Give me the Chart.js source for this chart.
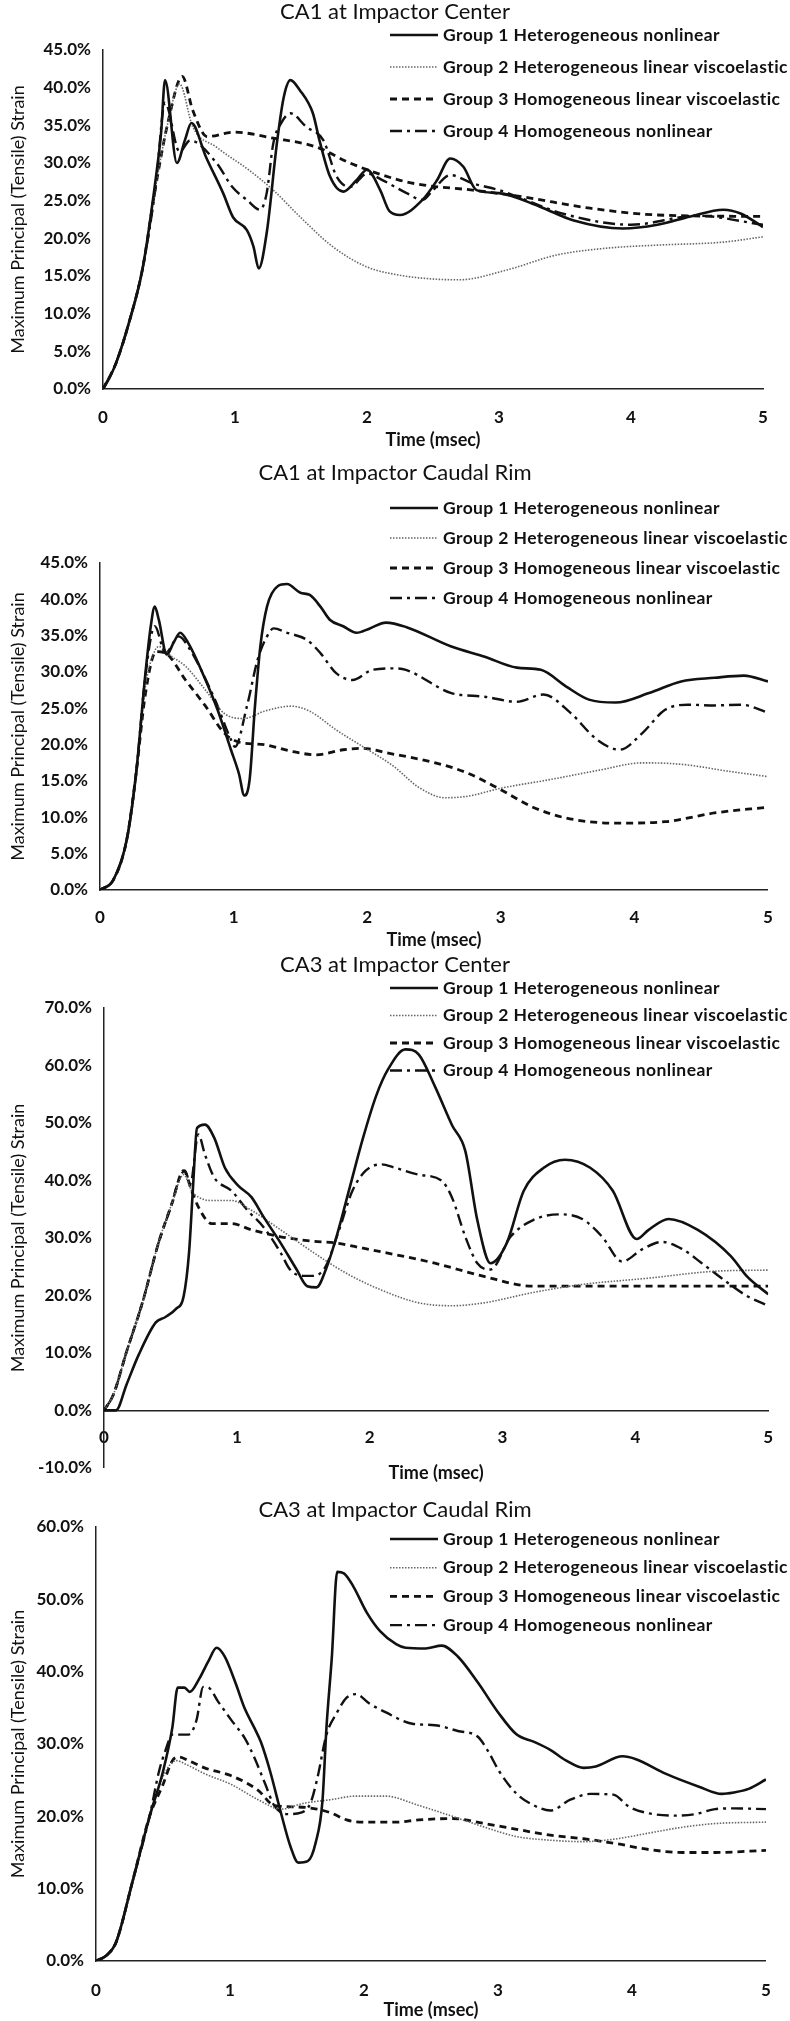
<!DOCTYPE html>
<html>
<head>
<meta charset="utf-8">
<script src="https://cdn.jsdelivr.net/npm/chart.js@4.4.1/dist/chart.umd.min.js"></script>
<style>
  html, body { margin: 0; padding: 0; background: #fff; }
  body { width: 790px; height: 2021px; position: relative; overflow: hidden; }
  .panel { position: absolute; left: 0; width: 790px; }
</style>
</head>
<body>
<div class="panel" id="p0"><canvas id="c0"></canvas></div>
<div class="panel" id="p1"><canvas id="c1"></canvas></div>
<div class="panel" id="p2"><canvas id="c2"></canvas></div>
<div class="panel" id="p3"><canvas id="c3"></canvas></div>
<script>
// ---- data (time in msec, strain in %) ----
const groupNames = [
  'Group 1 Heterogeneous nonlinear',
  'Group 2 Heterogeneous linear viscoelastic',
  'Group 3 Homogeneous linear viscoelastic',
  'Group 4 Homogeneous nonlinear'
];
const panelTitles = ['CA1 at Impactor Center', 'CA1 at Impactor Caudal Rim', 'CA3 at Impactor Center', 'CA3 at Impactor Caudal Rim'];
const xTitle = 'Time (msec)';
const yTitle = 'Maximum Principal (Tensile) Strain';
const xRange = [0, 5, 1];
const yRanges = [[0, 45, 5], [0, 45, 5], [-10, 70, 10], [0, 60, 10]];

// CA1 at Impactor Center
const ca1CenterG1 = [[0,0],[0.05,1.5],[0.1,3.5],[0.2,9],[0.3,16],[0.4,28],[0.44,34],[0.47,41],[0.56,30],[0.62,33],[0.67,35.3],[0.78,30.8],[0.91,26],[0.985,22.8],[1.09,21.1],[1.14,18.9],[1.18,16],[1.24,20.7],[1.32,33],[1.37,38.8],[1.42,41],[1.49,39.7],[1.59,36.6],[1.64,33],[1.72,28.2],[1.82,26.2],[1.92,27.7],[2.0,29.1],[2.1,26.4],[2.17,23.6],[2.25,23.1],[2.42,25.1],[2.53,27.7],[2.63,30.6],[2.73,29.5],[2.83,26.4],[3.0,26],[3.31,24.2],[3.56,22.4],[3.94,21.3],[4.2,21.8],[4.45,22.9],[4.7,23.8],[4.83,23.3],[5.0,21.5]];
const ca1CenterG2 = [[0,0],[0.1,3.5],[0.2,9],[0.3,16],[0.4,27],[0.5,36],[0.58,40.5],[0.68,34.8],[0.86,32.1],[1.11,29],[1.29,26.4],[1.49,22.9],[1.74,18.9],[2.0,16.2],[2.25,15.1],[2.5,14.6],[2.7,14.5],[3.06,15.8],[3.44,17.8],[3.82,18.7],[4.2,19.1],[4.7,19.5],[5,20.2]];
const ca1CenterG3 = [[0,0],[0.1,3.5],[0.2,9],[0.3,16],[0.4,27],[0.5,36],[0.6,41.5],[0.68,37],[0.79,33.5],[0.99,34.1],[1.29,33.3],[1.62,32.1],[1.87,30],[2.25,27.7],[2.42,27.1],[2.8,26.4],[3.18,25.5],[3.69,24],[4.2,23.1],[5,22.9]];
const ca1CenterG4 = [[0,0],[0.1,3.5],[0.2,9],[0.3,16],[0.4,27],[0.47,38],[0.58,31.5],[0.66,33],[0.86,30],[0.98,26.8],[1.09,25.1],[1.19,23.8],[1.24,26],[1.29,32.6],[1.35,35.3],[1.42,36.6],[1.54,34.8],[1.67,33],[1.77,28.2],[1.87,26.8],[2.0,28.6],[2.12,27.7],[2.3,26],[2.42,25.1],[2.5,26.4],[2.63,28.4],[2.8,27.3],[3.0,26.4],[3.5,23.2],[4.0,21.8],[4.5,23],[5,21.8]];

// CA1 at Impactor Caudal Rim
const ca1RimG1 = [[0,0],[0.1,1.4],[0.2,6.9],[0.27,16],[0.34,29.8],[0.38,36.3],[0.41,39],[0.44,37.2],[0.5,32.4],[0.55,34],[0.6,35.4],[0.66,34],[0.79,28.9],[0.88,24.8],[0.98,19.3],[1.04,16],[1.08,13],[1.12,15.2],[1.16,25.3],[1.2,33.5],[1.25,39],[1.33,41.8],[1.4,42.1],[1.5,40.9],[1.57,40.6],[1.65,39],[1.72,37.2],[1.82,36.3],[1.92,35.4],[2.02,36],[2.14,36.8],[2.29,36.2],[2.63,33.5],[2.88,32.1],[3.12,30.6],[3.3,30.3],[3.49,28],[3.66,26.2],[3.86,25.8],[4.11,27.1],[4.35,28.7],[4.6,29.2],[4.82,29.5],[5,28.7]];
const ca1RimG2 = [[0,0],[0.1,1.4],[0.2,6.9],[0.27,16],[0.34,28],[0.4,32.5],[0.44,33.5],[0.54,32.1],[0.64,30.8],[0.79,27.5],[0.93,24.3],[1.08,23.6],[1.23,24.6],[1.43,25.3],[1.57,24.6],[1.77,22],[1.97,19.7],[2.2,17],[2.38,14.2],[2.58,12.7],[2.75,12.9],[3.0,14],[3.37,15.2],[3.74,16.5],[4.06,17.5],[4.35,17.3],[4.72,16.3],[5,15.6]];
const ca1RimG3 = [[0,0],[0.1,1.4],[0.2,6.9],[0.27,16],[0.34,27],[0.42,32.8],[0.49,32.6],[0.64,28.9],[0.79,25.3],[0.93,21.6],[1.03,20.4],[1.23,20],[1.43,19.1],[1.62,18.6],[1.82,19.3],[1.97,19.5],[2.14,18.9],[2.51,17.5],[2.75,16.1],[3.0,13.8],[3.24,11.4],[3.49,9.9],[3.86,9.2],[4.23,9.4],[4.6,10.6],[5,11.4]];
const ca1RimG4 = [[0,0],[0.1,1.4],[0.2,6.9],[0.27,16],[0.34,29.5],[0.41,36.3],[0.49,32.6],[0.59,34.9],[0.66,33.5],[0.86,26.2],[0.98,20.7],[1.01,19.7],[1.1,25.3],[1.18,31.7],[1.25,34.9],[1.3,36],[1.4,35.4],[1.55,34.4],[1.65,32.6],[1.77,29.8],[1.89,28.9],[2.04,30.3],[2.21,30.5],[2.29,30.3],[2.63,27.1],[2.88,26.6],[3.12,25.9],[3.32,26.9],[3.52,24.4],[3.72,20.7],[3.89,19.3],[4.06,21.6],[4.23,24.8],[4.4,25.5],[4.6,25.4],[4.8,25.5],[5,24.4]];

// CA3 at Impactor Center
const ca3CenterG1 = [[0,0],[0.09,0],[0.17,4.5],[0.26,9.6],[0.39,15.3],[0.46,16.2],[0.54,17.6],[0.6,19.9],[0.64,27.4],[0.67,38.8],[0.7,49.1],[0.76,49.7],[0.83,47.4],[0.91,42.2],[1.01,39.1],[1.11,37.1],[1.2,33.7],[1.33,29.1],[1.45,24.5],[1.53,21.6],[1.6,21.4],[1.67,24.5],[1.75,30.2],[1.85,38.8],[1.95,47.4],[2.05,54.8],[2.14,59.4],[2.27,62.8],[2.37,61.9],[2.49,56.4],[2.62,49.6],[2.72,45.1],[2.81,33.1],[2.91,25.6],[3.03,29],[3.16,38.2],[3.31,42.2],[3.47,43.6],[3.66,42.2],[3.83,38.2],[4.01,29.8],[4.1,31.4],[4.25,33.3],[4.47,31.4],[4.72,26.8],[4.84,23.3],[5,20.2]];
const ca3CenterG2 = [[0,0],[0.07,2.7],[0.17,10.2],[0.29,18.8],[0.41,29.1],[0.51,35.9],[0.6,41],[0.66,38.2],[0.71,37.1],[0.81,36.5],[0.96,36.5],[1.11,34.8],[1.33,31.4],[1.58,27.4],[1.82,23.9],[2.07,21.1],[2.37,18.7],[2.62,18.2],[2.86,18.7],[3.23,20.5],[3.6,21.9],[4.1,23],[4.6,24.2],[5,24.4]];
const ca3CenterG3 = [[0,0],[0.07,2.7],[0.17,10.2],[0.29,18.8],[0.41,29.1],[0.51,35.9],[0.6,41.7],[0.66,38.2],[0.71,35.4],[0.81,32.5],[0.96,32.5],[1.11,31.4],[1.33,30.2],[1.58,29.4],[1.75,29.1],[1.95,28.2],[2.19,27.1],[2.49,25.6],[2.86,23.3],[3.23,21.6],[3.6,21.6],[4.1,21.6],[4.6,21.6],[5,21.6]];
const ca3CenterG4 = [[0,0],[0.07,2.7],[0.17,10.2],[0.29,18.8],[0.41,29.1],[0.51,35.9],[0.57,40.5],[0.61,41.7],[0.65,39.4],[0.71,48],[0.76,44.5],[0.83,40.5],[0.96,38.2],[1.08,34.8],[1.2,31.9],[1.33,27.4],[1.4,24.5],[1.5,23.4],[1.58,23.4],[1.67,25.1],[1.77,31.4],[1.87,38.2],[1.97,41.7],[2.09,42.8],[2.19,42.2],[2.37,41],[2.54,40],[2.62,37],[2.72,30.2],[2.81,25.6],[2.91,24.5],[3.06,30.2],[3.23,33.1],[3.43,34.1],[3.6,33.3],[3.75,30.2],[3.9,25.9],[4.05,28],[4.2,29.3],[4.35,28.1],[4.5,25.6],[4.7,22.1],[4.84,19.9],[5,18.2]];

// CA3 at Impactor Caudal Rim
const ca3RimG1 = [[0,0],[0.08,0.8],[0.15,2.6],[0.27,10.8],[0.4,20],[0.5,26.2],[0.57,32.3],[0.61,37.8],[0.66,37.8],[0.7,37.2],[0.77,39],[0.84,41.5],[0.9,43.3],[0.96,42.1],[1.04,38.5],[1.11,34.9],[1.18,32.3],[1.23,30.3],[1.3,26.2],[1.38,20.5],[1.45,15.9],[1.51,13.6],[1.58,13.8],[1.64,16.4],[1.69,22.1],[1.72,32.3],[1.76,42],[1.8,53.8],[1.85,53.6],[1.92,51.8],[2.02,48.2],[2.12,45.6],[2.24,43.8],[2.31,43.3],[2.46,43.2],[2.58,43.6],[2.7,42.1],[2.85,38.5],[3.0,34.4],[3.14,31.3],[3.27,30.3],[3.39,29.2],[3.51,27.7],[3.64,26.7],[3.73,26.9],[3.93,28.3],[4.03,27.9],[4.25,25.9],[4.5,24.1],[4.67,23.1],[4.76,23.3],[4.87,23.8],[5,25.1]];
const ca3RimG2 = [[0,0],[0.08,0.8],[0.15,2.6],[0.27,10.8],[0.4,20],[0.5,25.5],[0.6,27.7],[0.67,27.2],[0.81,25.9],[1.01,24.4],[1.21,22.3],[1.38,21],[1.55,21.8],[1.75,22.3],[1.94,22.8],[2.16,22.8],[2.41,21.5],[2.66,20],[2.9,18.5],[3.14,17.2],[3.39,16.7],[3.64,16.5],[3.89,16.9],[4.13,17.7],[4.38,18.5],[4.62,19],[5,19.2]];
const ca3RimG3 = [[0,0],[0.08,0.8],[0.15,2.6],[0.27,10.8],[0.4,20],[0.5,24.4],[0.57,27.7],[0.62,28.2],[0.69,27.7],[0.81,26.7],[1.01,25.6],[1.21,23.6],[1.33,21.5],[1.5,21.3],[1.65,21],[1.75,20.5],[1.87,19.5],[1.99,19.2],[2.24,19.2],[2.41,19.5],[2.66,19.7],[2.9,19],[3.14,18.2],[3.39,17.4],[3.64,16.9],[3.89,16.2],[4.13,15.4],[4.38,15],[4.62,15],[5,15.3]];
const ca3RimG4 = [[0,0],[0.08,0.8],[0.15,2.6],[0.27,10.8],[0.4,20],[0.47,26.2],[0.52,29.2],[0.57,31.3],[0.69,31.3],[0.75,33.3],[0.8,37.9],[0.84,37.8],[0.91,35.9],[1.01,33.3],[1.11,30.8],[1.18,28.2],[1.26,24.6],[1.33,21.5],[1.43,20.3],[1.53,20.5],[1.6,21.8],[1.65,25.1],[1.72,31.3],[1.8,34.4],[1.87,36.4],[1.94,36.9],[2.04,35.6],[2.16,34.4],[2.36,32.8],[2.53,32.6],[2.7,31.8],[2.85,31],[2.92,29.2],[3.01,26.2],[3.14,23.1],[3.27,21.5],[3.39,20.8],[3.54,22.3],[3.69,23.1],[3.86,23],[3.98,21.3],[4.13,20.4],[4.32,20.1],[4.47,20.3],[4.62,21],[4.76,21.1],[5,21]];

const panelSeries = [
  [ca1CenterG1, ca1CenterG2, ca1CenterG3, ca1CenterG4],
  [ca1RimG1, ca1RimG2, ca1RimG3, ca1RimG4],
  [ca3CenterG1, ca3CenterG2, ca3CenterG3, ca3CenterG4],
  [ca3RimG1, ca3RimG2, ca3RimG3, ca3RimG4]
];

// ---- look ----
const FONT = 'Lato, "Open Sans", "DejaVu Sans", sans-serif';
const INK = '#111';
const lineStyles = [
  {borderColor: '#111', borderWidth: 2.6, borderDash: []},
  {borderColor: '#666', borderWidth: 1.6, borderDash: [1.5, 1.5]},
  {borderColor: '#111', borderWidth: 2.8, borderDash: [7, 5]},
  {borderColor: '#111', borderWidth: 2.4, borderDash: [12, 5, 3, 5]}
];

// page positions of each panel (px); plot = [left, top, right, bottom]
const layoutSpec = [
  {top: 0,    height: 452, titleY: 12,   plot: [103, 50, 763, 389],    legendY: 35,   legendGap: 32,   xLabelY: 415,  timeY: 440},
  {top: 461,  height: 491, titleY: 473,  plot: [100, 563, 778, 890],   legendY: 508,  legendGap: 30,   xLabelY: 915,  timeY: 940},
  {top: 953,  height: 537, titleY: 965,  plot: [104, 1008, 778, 1470], legendY: 988,  legendGap: 27.5, xLabelY: 1437, timeY: 1475, zeroAxis: true},
  {top: 1498, height: 523, titleY: 1510, plot: [96, 1527, 775, 1961],  legendY: 1539, legendGap: 28.7, xLabelY: 1988, timeY: 2010}
];

// legend: line sample + label for each dataset, at a fixed spot
const legendLines = {
  id: 'legendLines',
  afterDraw(chart, args, opts) {
    const ctx = chart.ctx;
    ctx.save();
    ctx.font = 'bold ' + opts.size + 'px ' + FONT;
    ctx.textBaseline = 'middle';
    ctx.textAlign = 'left';
    if ('letterSpacing' in ctx) ctx.letterSpacing = opts.spacing + 'px';
    chart.data.datasets.forEach((ds, k) => {
      const y = opts.y + k * opts.gap;
      ctx.beginPath();
      ctx.setLineDash(ds.borderDash);
      ctx.lineWidth = ds.borderWidth;
      ctx.strokeStyle = ds.borderColor;
      ctx.moveTo(opts.x, y);
      ctx.lineTo(opts.x + opts.len, y);
      ctx.stroke();
      ctx.setLineDash([]);
      ctx.fillStyle = INK;
      ctx.fillText(ds.label, opts.x + opts.len + opts.textGap, y);
    });
    ctx.restore();
  }
};

function buildPanel(i) {
  const L = layoutSpec[i];
  const [yMin, yMax, yStep] = yRanges[i];
  const [pl, pt, pr, pb] = L.plot;
  const titleSize = 22, titleLh = titleSize * 1.2;
  const axisTitleLh = 18 * 1.2;
  const relPlotTop = pt - L.top;
  const titlePadTop = L.titleY - L.top - titleLh / 2;
  const titlePadBottom = relPlotTop - titlePadTop - titleLh;
  const canvasBottom = L.top + L.height;

  const zeroPix = pt + (yMax - 0) / (yMax - yMin) * (pb - pt);
  const axisY = L.zeroAxis ? zeroPix : pb;
  const xTickPad = L.xLabelY - axisY - 7.9;

  const el = document.getElementById('p' + i);
  el.style.top = L.top + 'px';
  el.style.height = L.height + 'px';

  const datasets = panelSeries[i].map((pts, k) => ({
    label: groupNames[k],
    data: pts.map(([x, y]) => ({x, y})),
    borderColor: lineStyles[k].borderColor,
    backgroundColor: 'transparent',
    borderWidth: lineStyles[k].borderWidth,
    borderDash: lineStyles[k].borderDash,
    pointRadius: 0,
    cubicInterpolationMode: 'monotone',
    fill: false
  }));

  new Chart(document.getElementById('c' + i), {
    type: 'line',
    data: {datasets},
    plugins: [legendLines],
    options: {
      responsive: true,
      maintainAspectRatio: false,
      animation: false,
      layout: {
        padding: {left: 0, top: 0, right: 0, bottom: L.zeroAxis ? canvasBottom - pb : 0}
      },
      plugins: {
        title: {
          display: true,
          text: panelTitles[i],
          color: INK,
          font: {family: FONT, size: titleSize, weight: 'normal'},
          padding: {top: titlePadTop, bottom: titlePadBottom}
        },
        legend: {display: false},
        legendLines: {x: 390, y: L.legendY - L.top, gap: L.legendGap, len: 48, textGap: 5, size: 17.5, spacing: 0.4},
        tooltip: {enabled: false}
      },
      scales: {
        x: {
          type: 'linear',
          position: L.zeroAxis ? {y: 0} : 'bottom',
          min: xRange[0], max: xRange[1],
          ticks: {stepSize: xRange[2], color: INK, padding: xTickPad, font: {family: FONT, size: 17, weight: 'bold'}},
          grid: {display: false, drawTicks: false},
          border: {display: true, color: '#222', width: 1.5},
          title: {display: true, text: xTitle, color: INK, font: {family: FONT, size: 18, weight: 'bold'},
                  padding: {top: 0, bottom: L.zeroAxis ? 0 : canvasBottom - L.timeY - axisTitleLh / 2}},
          afterFit(scale) {
            scale.height = L.zeroAxis ? (L.timeY - zeroPix + axisTitleLh / 2) : (canvasBottom - pb);
          }
        },
        y: {
          type: 'linear',
          min: yMin, max: yMax,
          ticks: {stepSize: yStep, color: INK, padding: 12, font: {family: FONT, size: 17, weight: 'bold'},
                  callback: (v) => v.toFixed(1) + '%'},
          grid: {display: false, drawTicks: false},
          border: {display: true, color: '#222', width: 1.5},
          title: {display: true, text: yTitle, color: INK, font: {family: FONT, size: 18, weight: 'normal'},
                  padding: {top: 18 - axisTitleLh / 2, bottom: 0}},
          afterFit(scale) { scale.width = pl; }
        },
        // empty right margin so the panel title stays centred on the full width
        margin: {
          axis: 'y', position: 'right', min: yMin, max: yMax,
          ticks: {display: false}, grid: {display: false, drawTicks: false}, border: {display: false},
          afterFit(scale) { scale.width = 790 - pr; }
        }
      }
    }
  });
}

for (let i = 0; i < 4; i++) buildPanel(i);
</script>
</body>
</html>
